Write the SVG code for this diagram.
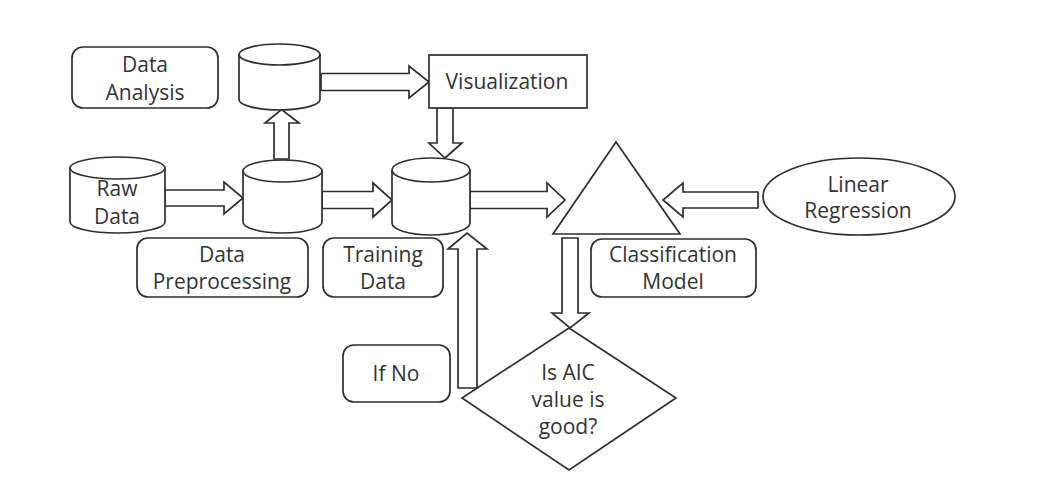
<svg xmlns="http://www.w3.org/2000/svg" width="1044" height="478" viewBox="0 0 1044 478">
<style>
.s{fill:#fff;stroke:#2e2e2e;stroke-width:1.7}
.t{font-family:"Open Sans","Noto Sans",sans-serif;font-size:21px;fill:#333;text-anchor:middle}
</style>
<rect width="1044" height="478" fill="#fff"/>
<g id="connectors">
<polygon class="s" points="321,73.5 409,73.5 409,66 429,82 409,98 409,90.5 321,90.5"/>
<polygon class="s" points="165,190 224,190 224,182 243,198 224,214 224,206 165,206"/>
<polygon class="s" points="322,191.5 373,191.5 373,183 392,200 373,217 373,208.5 322,208.5"/>
<polygon class="s" points="470,191.5 547,191.5 547,183 565,200 547,217 547,208.5 470,208.5"/>
<polygon class="s" points="758,192 683,192 683,183 663,200 683,217 683,208 758,208"/>
<polygon class="s" points="274,159 274,123 265,123 281.5,109.5 299,123 289,123 289,159"/>
<polygon class="s" points="437,108 437,143 429,143 445,158 462,143 453,143 453,108"/>
<polygon class="s" points="562,238 562,313 552,313 570,328 589,313 578,313 578,238"/>
<polygon class="s" points="458,388 458,249 448,249 467,233 487,249 477,249 477,388"/>
</g>
<g id="data-analysis"><rect class="s" x="72" y="47" width="146" height="61" rx="11"/><text class="t" x="145" y="72">Data</text><text class="t" x="145" y="100">Analysis</text></g>
<g id="cyl-top"><path class="s" d="M239,54.5 L239,99.5 A40.5,10.5 0 0 0 320,99.5 L320,54.5"/><ellipse class="s" cx="279.5" cy="54.5" rx="40.5" ry="10.5"/></g>
<g id="visualization"><rect class="s" x="429" y="55" width="158" height="53"/><text class="t" x="507" y="89">Visualization</text></g>
<g id="raw-data"><path class="s" d="M70,168 L70,222 A47.5,11 0 0 0 165,222 L165,168"/><ellipse class="s" cx="117.5" cy="168" rx="47.5" ry="11"/><text class="t" x="117" y="196">Raw</text><text class="t" x="117" y="224">Data</text></g>
<g id="cyl-pre"><path class="s" d="M243,171 L243,222 A39.5,11 0 0 0 322,222 L322,171"/><ellipse class="s" cx="282.5" cy="171" rx="39.5" ry="11"/></g>
<g id="data-preprocessing"><rect class="s" x="137" y="238" width="171" height="59" rx="11"/><text class="t" x="222" y="262">Data</text><text class="t" x="222" y="289">Preprocessing</text></g>
<g id="cyl-training"><path class="s" d="M392,170 L392,223 A39,12 0 0 0 470,223 L470,170"/><ellipse class="s" cx="431" cy="170" rx="39" ry="12"/></g>
<g id="training-data"><rect class="s" x="323" y="238" width="120" height="59" rx="11"/><text class="t" x="383" y="262">Training</text><text class="t" x="383" y="289">Data</text></g>
<g id="classifier"><polygon class="s" points="616,142 680,234 553,234"/></g>
<g id="classification-model"><rect class="s" x="591" y="239" width="165" height="58" rx="11"/><text class="t" x="673" y="262">Classification</text><text class="t" x="673" y="289">Model</text></g>
<g id="linear-regression"><ellipse class="s" cx="859" cy="196.5" rx="96" ry="38.5"/><text class="t" x="858" y="192">Linear</text><text class="t" x="858" y="218">Regression</text></g>
<g id="if-no"><rect class="s" x="343" y="345" width="107" height="57" rx="11"/><text class="t" x="396" y="381">If No</text></g>
<g id="aic"><polygon class="s" points="569,328 676,398 569,470 462,398"/><text class="t" x="568" y="380">Is AIC</text><text class="t" x="568" y="407">value is</text><text class="t" x="568" y="434">good?</text></g>
</svg>
